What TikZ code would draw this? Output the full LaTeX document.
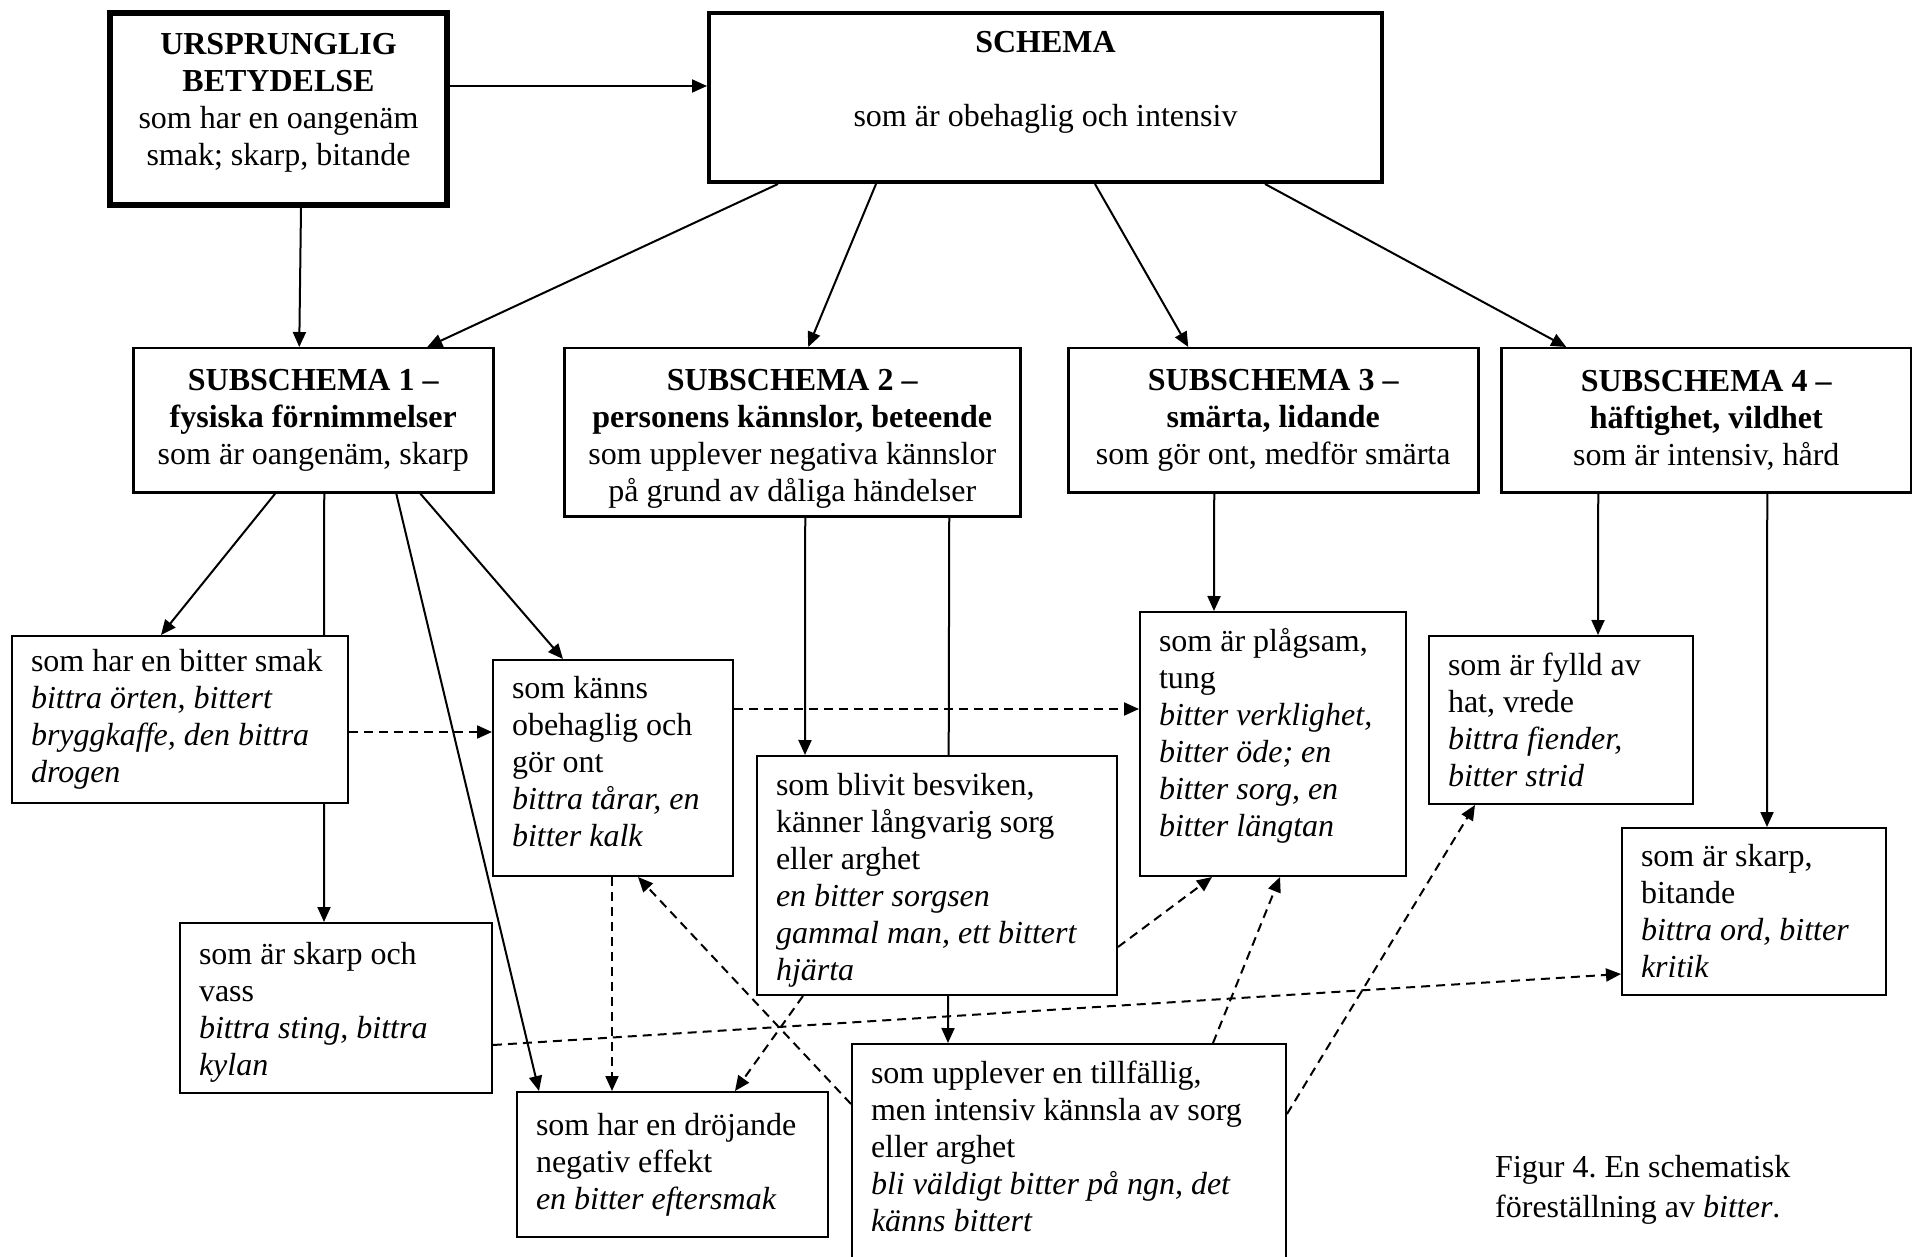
\documentclass[tikz,border=0pt]{standalone}
\usepackage{fontspec}
\setmainfont{Liberation Serif}
\usetikzlibrary{arrows.meta}
\usetikzlibrary{backgrounds}
\newcommand{\djup}[1]{\rule[-#1]{0pt}{#1}}
\newcommand{\hojd}[1]{\rule{0pt}{#1}}

\begin{document}
\begin{tikzpicture}[x=1pt,y=-1pt,
  every node/.style={font=\fontsize{32}{37}\selectfont\frenchspacing},
  box/.style={draw,fill=white,line width=2pt,anchor=north west,inner xsep=19pt,inner ysep=4pt,align=left,
    execute at begin node={\spaceskip=0pt\xspaceskip=0pt}},
  head/.style={box,inner xsep=10pt,align=flush center,line width=2.5pt},
  pil/.style={line width=2pt,-{Triangle[length=15pt,width=13pt]}},
  streck/.style={pil,dash pattern=on 9pt off 6pt}]
\useasboundingbox (0,0) rectangle (1912,1257);
\node[head,line width=6pt,minimum width=337pt,minimum height=192pt,text width=317pt] (ursp) at (107,10) {\textbf{URSPRUNGLIG}\\\textbf{BETYDELSE}\\som har en oangenäm\\smak; skarp, bitande\djup{19pt}};
\node[head,line width=4pt,minimum width=673pt,minimum height=169pt,text width=653pt] (schema) at (707,11) {\textbf{SCHEMA}\\[37pt]som är obehaglig och intensiv\\\mbox{}};
\node[head,minimum width=360pt,minimum height=144pt,text width=340pt] (sub1) at (132,347) {\textbf{SUBSCHEMA 1 –}\\\textbf{fysiska förnimmelser}\\som är oangenäm, skarp};
\node[head,minimum width=456pt,minimum height=168pt,text width=436pt] (sub2) at (563,347) {\hojd{34pt}\textbf{SUBSCHEMA 2 –}\\\textbf{personens kännslor, beteende}\\som upplever negativa kännslor\\på grund av dåliga händelser};
\node[head,minimum width=410pt,minimum height=144pt,text width=390pt] (sub3) at (1067,347) {\textbf{SUBSCHEMA 3 –}\\\textbf{smärta, lidande}\\som gör ont, medför smärta};
\node[head,minimum width=410pt,minimum height=144pt,text width=390pt] (sub4) at (1500,347) {\textbf{SUBSCHEMA 4 –}\\\textbf{häftighet, vildhet}\\som är intensiv, hård};
\node[box,minimum width=336pt,minimum height=167pt,text width=298pt] (smak) at (11,635) {som har en bitter smak\\\textit{bittra örten, bittert}\\\textit{bryggkaffe, den bittra}\\\textit{drogen}};
\node[box,minimum width=240pt,minimum height=216pt,text width=202pt] (kanns) at (492,659) {som känns\\obehaglig och\\gör ont\\\textit{bittra tårar, en}\\\textit{bitter kalk}\djup{14pt}};
\node[box,minimum width=312pt,minimum height=170pt,text width=274pt] (vass) at (179,922) {\hojd{30pt}som är skarp och\\vass\\\textit{bittra sting, bittra}\\\textit{kylan}};
\node[box,minimum width=311pt,minimum height=145pt,text width=273pt] (drojande) at (516,1091) {som har en dröjande\\negativ effekt\\\textit{en bitter eftersmak}};
\node[box,minimum width=360pt,minimum height=239pt,text width=322pt] (besviken) at (756,755) {\hojd{32pt}som blivit besviken,\\känner långvarig sorg\\eller arghet\\\textit{en bitter sorgsen}\\\textit{gammal man, ett bittert}\\\textit{hjärta}};
\node[box,minimum width=434pt,minimum height=216pt,text width=396pt] (tillf) at (851,1043) {som upplever en tillfällig,\\men intensiv kännsla av sorg\\eller arghet\\\textit{bli väldigt bitter på ngn, det}\\\textit{känns bittert}\djup{12pt}};
\node[box,minimum width=266pt,minimum height=264pt,text width=228pt] (plagsam) at (1139,611) {som är plågsam,\\tung\\\textit{bitter verklighet,}\\\textit{bitter öde; en}\\\textit{bitter sorg, en}\\\textit{bitter längtan}\djup{24pt}};
\node[box,minimum width=264pt,minimum height=168pt,text width=226pt] (fylld) at (1428,635) {som är fylld av\\hat, vrede\\\textit{bittra fiender,}\\\textit{bitter strid}};
\node[box,minimum width=264pt,minimum height=167pt,text width=226pt] (bitande) at (1621,827) {som är skarp,\\bitande\\\textit{bittra ord, bitter}\\\textit{kritik}};
\node[anchor=north west,inner sep=0pt,align=left,font=\fontsize{32}{40}\selectfont\frenchspacing] (figur) at (1495,1155) {Figur 4. En schematisk\\föreställning av \textit{bitter}.};
\begin{scope}[on background layer]
\coordinate (ut) at ([yshift=23pt]ursp.east);
\draw[pil] (ut) -- (ut -| schema.west);
\draw[pil] ([xshift=22.5pt]ursp.south) -- ([xshift=-14pt]sub1.north);
\draw[pil] ([xshift=-267.5pt]schema.south) -- ([xshift=114pt]sub1.north);
\draw[pil] ([xshift=-169.5pt]schema.south) -- ([xshift=16pt]sub2.north);
\draw[pil] ([xshift=49.5pt]schema.south) -- ([xshift=-85pt]sub3.north);
\draw[pil] ([xshift=219.5pt]schema.south) -- ([xshift=-140pt]sub4.north);
\draw[pil] ([xshift=-38pt]sub1.south) -- ([xshift=-19pt]smak.north);
\draw[pil] ([xshift=11pt]sub1.south) -- ([xshift=-12pt]vass.north);
\draw[pil] ([xshift=83pt]sub1.south) -- ([xshift=-133.5pt]drojande.north);
\draw[pil] ([xshift=107pt]sub1.south) -- ([xshift=-50pt]kanns.north);
\draw[pil] ([xshift=13pt]sub2.south) -- ([xshift=-132pt]besviken.north);
\draw[pil] ([xshift=157pt]sub2.south) -- ([xshift=97pt]tillf.north west);
\draw[pil] ([xshift=-59pt]sub3.south) -- ([xshift=-59pt]plagsam.north);
\draw[pil] ([xshift=-108pt]sub4.south) -- ([xshift=37pt]fylld.north);
\draw[pil] ([xshift=61pt]sub4.south) -- ([xshift=13pt]bitande.north);
\draw[streck] ([yshift=-12.5pt]smak.east) -- ([yshift=36pt]kanns.west);
\draw[streck] ([yshift=59pt]kanns.east) -- ([yshift=35pt]plagsam.west);
\draw[streck] ([xshift=-1pt]kanns.south) -- ([xshift=-60.5pt]drojande.north);
\draw[streck] ([yshift=-61pt]tillf.north west) -- ([xshift=25pt]kanns.south);
\draw[streck] ([xshift=-134pt]besviken.south) -- ([xshift=62.5pt]drojande.north);
\draw[streck] ([yshift=-71.5pt]besviken.east) -- ([xshift=-61pt]plagsam.south);
\draw[streck] ([xshift=362pt]tillf.north west) -- ([xshift=7pt]plagsam.south);
\draw[streck] ([yshift=-71pt]tillf.north east) -- ([xshift=-86pt]fylld.south);
\draw[streck] ([yshift=-37pt]vass.east) -- ([yshift=-62.5pt]bitande.west);
\end{scope}
\end{tikzpicture}
\end{document}
